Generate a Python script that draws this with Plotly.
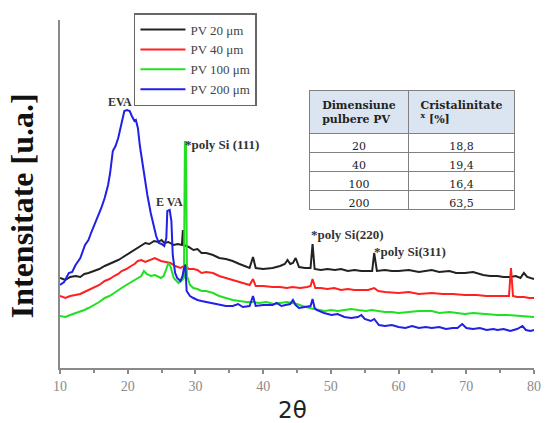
import plotly.graph_objects as go

# ---------------- data (2θ, intensity in arbitrary units) ----------------
x_20 = [10.0, 10.8, 11.5, 12.3, 13.0, 13.6, 14.2, 15.0, 15.8, 16.6, 17.3, 18.0, 18.6, 19.1, 19.8, 20.5,
        21.0, 21.5, 22.0, 22.6, 23.2, 23.9, 24.5, 25.0, 25.4, 26.0, 26.8, 27.4, 28.0, 28.15, 28.3, 29.0,
        29.7, 30.3, 30.9, 31.6, 32.6, 33.5, 34.5, 35.5, 36.5, 37.3, 38.0, 38.5, 38.9, 40.0, 41.4, 42.5,
        43.2, 43.6, 44.0, 44.4, 44.8, 45.3, 46.2, 47.0, 47.3, 47.6, 48.5, 49.5, 50.6, 51.5, 52.5, 53.5,
        54.5, 55.5, 56.1, 56.4, 56.8, 58.0, 59.0, 60.0, 61.5, 63.0, 64.9, 66.0, 67.5, 68.5, 69.8, 71.0,
        72.5, 73.5, 74.6, 75.5, 76.5, 77.3, 78.0, 78.5, 79.0, 80.0]
y_20 = [90, 88, 91, 92, 91, 94, 95, 97, 99, 102, 104, 106, 108, 110, 113, 116,
        118, 120, 122, 125, 124, 127, 126, 128, 125, 126, 123, 124, 123, 138, 123, 121,
        118, 119, 115, 115, 113, 110, 109, 107, 104, 102, 100, 111, 100, 99, 100, 102,
        104, 108, 104, 105, 110, 101, 100, 100, 124, 99, 98, 99, 98, 99, 97, 98,
        97, 97, 97, 115, 97, 98, 97, 97, 98, 96, 98, 96, 97, 95, 95, 96,
        93, 92, 92, 91, 91, 92, 90, 95, 91, 89]

x_40 = [10.0, 10.8, 11.5, 12.3, 13.0, 13.6, 14.2, 15.0, 15.8, 16.6, 17.3, 18.0, 18.6, 19.1, 19.8, 20.5,
        21.0, 21.5, 22.0, 22.6, 23.4, 24.0, 24.9, 25.5, 26.3, 27.0, 27.8, 28.5, 29.0, 29.7, 30.3, 30.9,
        31.6, 32.6, 33.5, 34.5, 35.5, 36.5, 37.3, 38.0, 38.5, 38.9, 40.0, 41.4, 42.5, 43.5, 44.3, 45.5,
        46.5, 47.0, 47.3, 47.7, 48.5, 49.5, 50.5, 51.5, 52.5, 53.5, 54.5, 55.5, 56.4, 57.0, 58.0, 60.0,
        61.5, 63.0, 64.9, 66.5, 68.0, 69.8, 71.5, 73.0, 74.6, 75.5, 76.3, 76.6, 76.9, 77.5, 78.5, 79.3, 80.0]
y_40 = [72, 70, 72, 73, 74, 76, 78, 80, 83, 87, 89, 92, 94, 97, 99, 102,
        104, 107, 108, 106, 108, 110, 107, 106, 105, 102, 100, 103, 99, 99, 98, 95,
        96, 95, 92, 90, 88, 86, 84, 83, 89, 82, 82, 81, 81, 80, 81, 80,
        81, 82, 89, 80, 80, 79, 80, 78, 79, 78, 78, 78, 80, 77, 76, 75,
        76, 74, 75, 74, 74, 73, 73, 72, 72, 72, 72, 100, 72, 71, 71, 70, 70]

x_100 = [10.0, 10.8, 11.5, 12.3, 13.0, 13.6, 14.2, 15.0, 15.8, 16.6, 17.3, 18.0, 18.6, 19.1, 19.8, 20.5,
         21.0, 21.5, 22.0, 22.4, 22.8, 23.4, 24.0, 24.9, 25.3, 25.6, 26.0, 26.3, 26.8, 27.5, 28.0, 28.3,
         28.45, 28.6, 28.75, 29.2, 29.7, 30.3, 30.9, 31.6, 32.6, 33.5, 34.5, 35.5, 36.5, 37.5, 38.5, 39.4,
         40.5, 41.5, 42.5, 43.5, 44.3, 45.0, 45.8, 46.7, 47.5, 48.3, 49.1, 50.0, 51.0, 52.0, 53.0, 54.0,
         55.2, 56.0, 57.0, 58.0, 59.0, 60.0, 61.5, 63.0, 64.9, 66.0, 67.5, 69.8, 71.0, 72.5, 74.6, 76.0,
         77.5, 79.0, 80.0]
y_100 = [52, 51, 53, 55, 56, 58, 60, 63, 66, 70, 72, 75, 78, 80, 83, 86,
         88, 90, 92, 97, 94, 92, 93, 90, 92, 97, 105, 102, 90, 85, 88, 90,
         226, 226, 92, 83, 80, 79, 77, 77, 75, 72, 70, 68, 67, 66, 66, 65,
         66, 64, 65, 66, 65, 64, 62, 60, 59, 58, 57, 58, 57, 58, 59, 58,
         57, 58, 57, 56, 56, 55, 56, 57, 57, 55, 56, 54, 55, 54, 53, 53,
         52, 51, 51]

x_200 = [10.0, 10.6, 11.3, 11.8, 12.3, 13.0, 13.7, 14.2, 14.7, 15.4, 16.1, 16.6, 17.1, 17.4, 17.8, 18.2,
         18.6, 19.0, 19.5, 19.9, 20.3, 20.6, 21.0, 21.2, 21.5, 21.8, 22.2, 22.5, 22.9, 23.4, 23.9, 24.2,
         24.6, 25.0, 25.4, 25.7, 25.85, 26.2, 26.45, 26.65, 27.0, 27.3, 27.8, 28.1, 28.3, 28.5, 28.7, 29.2,
         29.7, 30.3, 30.9, 31.6, 32.6, 33.5, 34.5, 35.5, 36.3, 37.0, 38.0, 38.5, 38.9, 40.0, 41.4, 42.0,
         42.7, 43.3, 44.0, 44.4, 44.8, 45.3, 46.2, 47.0, 47.3, 47.6, 47.9, 49.0, 50.1, 51.0, 52.0, 53.0,
         54.0, 54.5, 55.0, 55.9, 56.4, 57.1, 58.0, 59.0, 60.0, 61.0, 62.0, 63.0, 64.0, 64.9, 66.0, 67.0,
         68.0, 68.7, 69.4, 70.0, 71.0, 72.0, 73.0, 74.0, 74.6, 75.5, 76.5, 77.5, 78.3, 78.8, 79.5, 80.0]
y_200 = [83, 86, 95, 96, 103, 110, 123, 128, 137, 148, 160, 170, 183, 195, 217, 222,
         230, 242, 257, 258, 257, 252, 247, 248, 240, 222, 203, 188, 173, 155, 140, 132,
         125, 124, 122, 130, 157, 158, 147, 113, 95, 90, 87, 92, 100, 103, 77, 72,
         70, 68, 67, 66, 65, 63, 62, 62, 64, 61, 62, 72, 62, 63, 63, 65,
         62, 63, 64, 68, 63, 60, 61, 62, 69, 60, 58, 55, 53, 54, 51, 50,
         51, 53, 49, 47, 49, 43, 42, 43, 41, 40, 42, 40, 41, 40, 41, 39,
         40, 40, 44, 40, 39, 40, 38, 39, 38, 39, 37, 39, 42, 38, 37, 38]

series_names = ["PV 20 \u03bcm", "PV 40 \u03bcm", "PV 100 \u03bcm", "PV 200 \u03bcm"]
series_colors = ["#222222", "#ff2020", "#20e020", "#2020e6"]

table_size = ["20", "40", "100", "200"]
table_cryst = ["18,8", "19,4", "16,4", "63,5"]

# ---------------- figure ----------------
fig = go.Figure()
for xs, ys, name, col in zip([x_20, x_40, x_100, x_200], [y_20, y_40, y_100, y_200],
                             series_names, series_colors):
    fig.add_trace(go.Scatter(x=xs, y=ys, mode="lines", name=name,
                             line=dict(color=col, width=2)))

fig.add_trace(go.Table(
    domain=dict(x=[0.527, 0.9615], y=[0.38, 0.797]),
    columnwidth=[0.48, 0.52],
    header=dict(values=["<b>Dimensiune<br>pulbere PV</b>", "<b>Cristalinitate<br><sup>x</sup> [%]</b>"],
                fill_color="#dbe5f1", line_color="#808080", line_width=1,
                font=dict(family="DejaVu Serif", size=11, color="#222"),
                align="center", height=36),
    cells=dict(values=[table_size, table_cryst],
               fill_color="white", line_color="#808080", line_width=1,
               font=dict(family="DejaVu Serif", size=11, color="#222"),
               align="center", height=19),
))

lab_font = dict(family="Liberation Serif", size=13, color="#333")
fig.add_annotation(x=18.8, y=266, text="<b>EVA</b>", showarrow=False,
                   font=dict(family="Liberation Serif", size=12, color="#333"))
fig.add_annotation(x=26.2, y=166, text="<b>E VA</b>", showarrow=False,
                   font=dict(family="Liberation Serif", size=12, color="#333"))
fig.add_annotation(x=28.1, y=224, text="<b>*poly Si (111)</b>", showarrow=False,
                   xanchor="left", font=lab_font)
fig.add_annotation(x=46.7, y=134, text="<b>*poly Si(220)</b>", showarrow=False,
                   xanchor="left", font=lab_font)
fig.add_annotation(x=56.1, y=117, text="<b>*poly Si(311)</b>", showarrow=False,
                   xanchor="left", font=lab_font)

fig.add_annotation(xref="paper", yref="paper", x=-0.08, y=0.465, textangle=-90,
                   text="<b>Intensitate [u.a.]</b>", showarrow=False,
                   xanchor="center", yanchor="middle",
                   font=dict(family="Liberation Serif", size=32, color="#111"))
fig.add_annotation(xref="paper", yref="paper", x=0.49, y=-0.12,
                   text="2\u03b8", showarrow=False, xanchor="center", yanchor="middle",
                   font=dict(family="DejaVu Sans", size=23, color="#222"))

fig.update_xaxes(range=[10, 80], tickmode="linear", tick0=10, dtick=10,
                 showline=True, linecolor="#8a8a8a", linewidth=2,
                 ticks="outside", ticklen=4, tickcolor="#8a8a8a", tickwidth=1.5,
                 minor=dict(ticks="outside", ticklen=3, dtick=5, tickcolor="#8a8a8a"),
                 showgrid=False, zeroline=False,
                 tickfont=dict(family="Liberation Serif", size=14, color="#8a8a8a"))
fig.update_yaxes(range=[0, 348], showline=True, linecolor="#8a8a8a", linewidth=2,
                 showticklabels=False, ticks="", showgrid=False, zeroline=False)

fig.update_layout(
    width=549, height=423,
    margin=dict(l=60, r=8, t=20, b=55),
    paper_bgcolor="white", plot_bgcolor="white",
    showlegend=True,
    legend=dict(x=0.156, y=1.02, xanchor="left", yanchor="top",
                bordercolor="#666", borderwidth=1.5, bgcolor="white",
                font=dict(family="Liberation Serif", size=13, color="#444"),
                tracegroupgap=0, itemwidth=45),
)

fig.write_html("out.html")
